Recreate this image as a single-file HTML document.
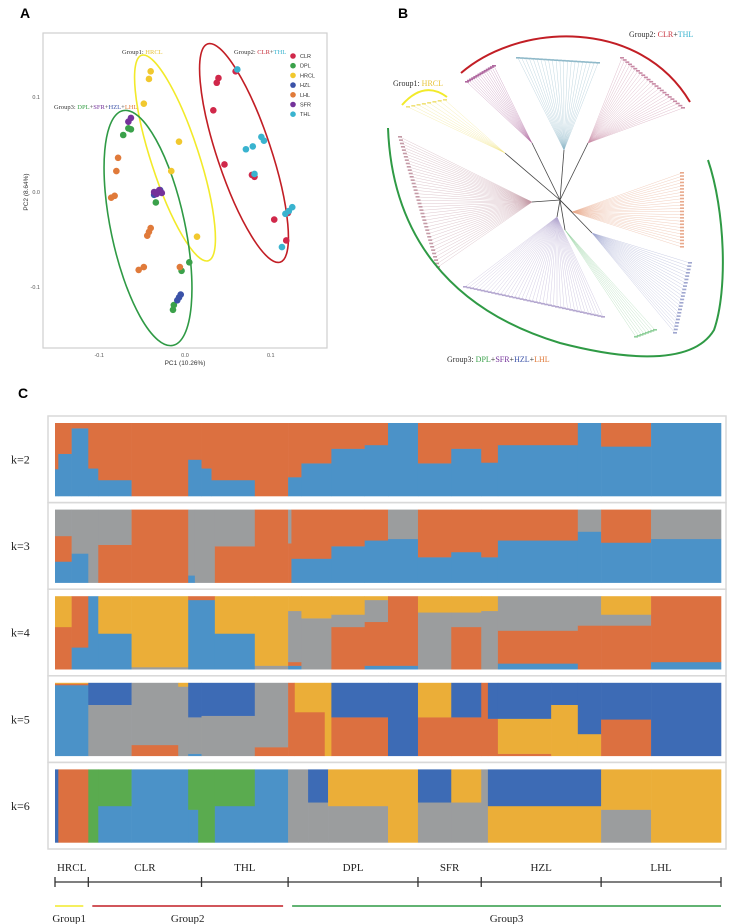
<!DOCTYPE html>
<html><head><meta charset="utf-8"><style>
html,body{margin:0;padding:0;background:#fff;}
svg{display:block;font-family:"Liberation Sans",sans-serif;}
.serif{font-family:"Liberation Serif",serif;}
</style></head><body>
<svg id="fig" width="730" height="924" viewBox="0 0 730 924" xmlns="http://www.w3.org/2000/svg">
<text x="20" y="18" font-size="14" font-weight="bold">A</text>
<text x="398" y="18" font-size="14" font-weight="bold">B</text>
<text x="18" y="398" font-size="14" font-weight="bold">C</text>
<g id="pca"></g>
<g id="tree"></g>
<g id="structure"></g>
</svg>
<script>
// ---------- PCA data ----------
const pcaPops = ["CLR","DPL","HRCL","HZL","LHL","SFR","THL"];
const pcaColors = ["#d0284a","#3aa14a","#f1c82e","#3b52a8","#e07a3a","#74329a","#39b3cf"];
const hrclX = [-0.040,-0.042,-0.048,-0.007,-0.016,0.014];
const hrclY = [0.127,0.119,0.093,0.053,0.022,-0.047];
const clrX = [0.039,0.033,0.046,0.081,0.104,0.118,0.059,0.120,0.037,0.078];
const clrY = [0.120,0.086,0.029,0.016,-0.029,-0.051,0.127,-0.022,0.115,0.018];
const thlX = [0.061,0.092,0.079,0.071,0.121,0.113,0.081,0.089,0.117,0.125];
const thlY = [0.129,0.054,0.048,0.045,-0.020,-0.058,0.019,0.058,-0.023,-0.016];
const sfrX = [-0.066,-0.033,-0.036,-0.027,-0.063,-0.030];
const sfrY = [0.074,-0.002,0.000,-0.001,0.078,0.002];
const dplX = [-0.066,-0.072,-0.034,-0.004,0.005,-0.013,-0.014,-0.063];
const dplY = [0.067,0.060,-0.011,-0.083,-0.074,-0.119,-0.124,0.066];
const lhlX = [-0.078,-0.080,-0.082,-0.086,-0.042,-0.044,-0.054,-0.048,-0.006,-0.040];
const lhlY = [0.036,0.022,-0.004,-0.006,-0.042,-0.046,-0.082,-0.079,-0.079,-0.038];
const hzlX = [-0.007,-0.009,-0.005,-0.032,-0.029,-0.036];
const hzlY = [-0.111,-0.114,-0.108,-0.001,0.002,-0.003];
const pcaXTicks = [-0.1,0.0,0.1];
const pcaYTicks = [0.1,0.0,-0.1];

const NS="http://www.w3.org/2000/svg";
function mk(tag,attrs,parent){const e=document.createElementNS(NS,tag);for(const k in attrs)e.setAttribute(k,attrs[k]);if(parent)parent.appendChild(e);return e;}

(function(){
  const g=document.getElementById('pca');
  const sx=v=>185+v*858, sy=v=>192-v*950;
  const frame=mk('rect',{x:43,y:33,width:284,height:315,fill:'none',stroke:'#cfcfcf','stroke-width':1.2},g);
  
  
  pcaXTicks.forEach(t=>{const tx=mk('text',{x:sx(t),y:357,'font-size':5.5,fill:'#555','text-anchor':'middle'},g);tx.textContent=t.toFixed(1);
    
    });
  pcaYTicks.forEach(t=>{const tx=mk('text',{x:40,y:sy(t)+2,'font-size':5.5,fill:'#555','text-anchor':'end'},g);tx.textContent=t.toFixed(1);
    
    });
  const yl=mk('text',{x:0,y:0,'font-size':6.5,fill:'#333','text-anchor':'middle',transform:'translate(28,192) rotate(-90)'},g);yl.textContent='PC2 (8.64%)';
  
  
  const xl=mk('text',{x:185,y:365,'font-size':6.5,fill:'#333','text-anchor':'middle'},g);xl.textContent='PC1 (10.26%)';
  
  
  // ellipses
  const e1=mk('ellipse',{cx:175,cy:158,rx:24,ry:108,fill:'none',stroke:'#f2ea2a','stroke-width':1.6,transform:'rotate(-18 175 158)'},g);
  
  
  const e2=mk('ellipse',{cx:244,cy:153,rx:27,ry:115,fill:'none',stroke:'#c21e25','stroke-width':1.6,transform:'rotate(-18.4 244 153)'},g);
  
  
  const e3=mk('ellipse',{cx:148,cy:228,rx:37,ry:120,fill:'none',stroke:'#2f9a45','stroke-width':1.6,transform:'rotate(-12 148 228)'},g);
  
  
  const sets=[[clrX,clrY,0],[dplX,dplY,1],[hrclX,hrclY,2],[lhlX,lhlY,4],[thlX,thlY,6],[hzlX,hzlY,3],[sfrX,sfrY,5]];
  sets.forEach(([xs,ys,ci])=>{xs.forEach((x,i)=>{const c=mk('circle',{cx:sx(x),cy:sy(ys[i]),r:3.3,fill:pcaColors[ci]},g);
    
    });});
  // legend
  pcaPops.forEach((p,i)=>{const y=56+i*9.7;
    const c=mk('circle',{cx:293,cy:y,r:2.8,fill:pcaColors[i]},g);
    
    
    const t=mk('text',{x:300,y:y+2,'font-size':5.5,fill:'#333'},g);t.textContent=p;
    
    });
})();
</script>
<script>
// group labels in A and B (text)
(function(){
  const svg=document.getElementById('fig');
  function label(x,y,size,parts,name){
    const t=mk('text',{x:x,y:y,'font-size':size,class:'serif'},svg);
    
    
    parts.forEach(([s,c])=>{const ts=mk('tspan',{fill:c},t);ts.textContent=s;});
  }
  label(122,54,6.5,[['Group1: ','#333'],['HRCL','#e8c43a']],'group1-label');
  label(234,54,6.5,[['Group2: ','#333'],['CLR','#c8333f'],['+','#333'],['THL','#39b3cf']],'group2-label');
  label(54,109,6.5,[['Group3: ','#333'],['DPL','#3aa14a'],['+','#333'],['SFR','#74329a'],['+','#333'],['HZL','#3b52a8'],['+','#333'],['LHL','#e07a3a']],'group3-label');
  label(629,37,8,[['Group2: ','#333'],['CLR','#c8333f'],['+','#333'],['THL','#39b3cf']],'tree-group2-label');
  label(393,86,8,[['Group1: ','#333'],['HRCL','#e8c43a']],'tree-group1-label');
  label(447,362,8,[['Group3: ','#333'],['DPL','#3aa14a'],['+','#333'],['SFR','#74329a'],['+','#333'],['HZL','#3b52a8'],['+','#333'],['LHL','#e07a3a']],'tree-group3-label');
})();
</script>
<script>
// ---------- Tree (approximate clades) ----------
const cladeLeafA = [[467,82],[518,58],[622,58],[408,107],[400,137],[682,173],[690,263],[465,287],[636,337]];
const cladeLeafB = [[494,66],[598,63],[683,108],[445,100],[438,267],[682,247],[675,333],[603,317],[655,330]];
const cladeHub = [[532,143],[564,150],[588,143],[505,153],[532,202],[572,212],[592,233],[557,217],[565,230]];
const cladeCount = [14,22,24,8,40,24,22,40,8];
const cladeColor = ["#b06aa0","#8fb9c9","#c88aa5","#f0e27a","#c49aa6","#e8a98c","#9fa6cf","#b3a6cf","#8fcf9a"];
(function(){
  const g=document.getElementById('tree');
  const cx=560, cy=200;
  cladeHub.forEach((h,i)=>{
    const bb=mk('line',{x1:cx,y1:cy,x2:h[0],y2:h[1],stroke:'#444','stroke-width':0.8},g);
    
    
    const n=cladeCount[i];
    for(let j=0;j<n;j++){
      const f=j/(n-1);
      const lx=cladeLeafA[i][0]+(cladeLeafB[i][0]-cladeLeafA[i][0])*f;
      const ly=cladeLeafA[i][1]+(cladeLeafB[i][1]-cladeLeafA[i][1])*f;
      const l=mk('line',{x1:h[0],y1:h[1],x2:lx,y2:ly,stroke:cladeColor[i],'stroke-width':0.4,opacity:0.7},g);
      
      
      const d=mk('rect',{x:lx-2,y:ly-1,width:4,height:1.6,fill:cladeColor[i]},g);
      
      
    }
  });
  const r=mk('path',{d:'M461,73 C520,22 640,18 690,102',fill:'none',stroke:'#c21e25','stroke-width':2},g);
  
  
  const y=mk('path',{d:'M402,105 Q424,80 447,97',fill:'none',stroke:'#f2ea2a','stroke-width':2},g);
  
  
  const gr=mk('path',{d:'M388,128 C392,235 450,310 560,343 C610,356 690,370 714,330 C728,290 725,210 708,160',fill:'none',stroke:'#2f9a45','stroke-width':2},g);
  
  
})();
</script>
<script>
// ---------- STRUCTURE data ----------
const totalSamples = 200;
const popNames = ["HRCL","CLR","THL","DPL","SFR","HZL","LHL"];
const popBounds = [0,10,44,70,109,128,164,200];
const k2Starts = [0,1,5,10,13,23,40,44,47,60,70,74,83,93,100,109,119,128,133,157,164,179];
const k2Props = [[.37,.63],[.58,.42],[.93,.07],[.38,.62],[.22,.78],[0,1],[.5,.5],[.38,.62],[.22,.78],[0,1],[.26,.74],[.45,.55],[.65,.35],[.70,.30],[1,0],[.45,.55],[.65,.35],[.46,.54],[.7,.3],[1,0],[.68,.32],[1,0]];
const k3Starts = [0,5,10,13,23,40,42,48,60,70,71,83,93,100,109,119,128,133,157,164,179];
const k3Props = [[.29,.35,.36],[.4,0,.6],[0,0,1],[0,.52,.48],[0,1,0],[.1,0,.9],[0,0,1],[0,.5,.5],[0,1,0],[0,.54,.46],[.33,.67,0],[.5,.5,0],[.58,.42,0],[.6,0,.4],[.35,.65,0],[.42,.58,0],[.35,.65,0],[.58,.42,0],[.7,0,.3],[.55,.45,0],[.6,0,.4]];
const k4Starts = [0,5,10,13,23,40,48,60,70,74,83,93,100,109,119,128,133,157,164,179];
const k4Props = [[0,.58,0,.42],[.3,.7,0,0],[1,0,0,0],[.49,0,0,.51],[0,0,.03,.97],[.95,.05,0,0],[.49,0,0,.51],[0,0,.05,.95],[.05,.05,.7,.2],[0,0,.7,.3],[0,.58,.17,.25],[.05,.6,.3,.05],[.05,.95,0,0],[0,0,.78,.22],[0,.58,.2,.22],[0,0,.8,.2],[.08,.45,.47,0],[0,.6,.4,0],[0,.6,.15,.25],[.1,.9,0,0]];
const k5Starts = [0,10,23,37,40,44,60,70,72,81,83,100,109,119,128,130,133,149,157,164,179];
const k5Props = [[.97,.02,0,.01,0],[0,0,.7,0,.3],[0,.15,.85,0,0],[0,0,.95,.05,0],[.03,0,.5,0,.47],[0,0,.55,0,.45],[0,.12,.88,0,0],[0,1,0,0,0],[0,.6,0,.4,0],[0,0,0,1,0],[0,.53,0,0,.47],[0,0,0,0,1],[0,.53,0,.47,0],[0,.53,0,0,.47],[0,1,0,0,0],[0,.51,0,0,.49],[0,.03,0,.48,.49],[0,0,0,.7,.3],[0,0,0,.3,.7],[0,.5,0,0,.5],[0,0,0,0,1]];
const k6Starts = [0,1,10,13,23,40,43,48,60,70,76,82,100,109,119,128,130,164,179];
const k6Props = [[0,0,0,0,1,0],[0,1,0,0,0,0],[0,0,0,0,0,1],[.5,0,0,0,0,.5],[1,0,0,0,0,0],[.45,0,0,0,0,.55],[0,0,0,0,0,1],[.5,0,0,0,0,.5],[1,0,0,0,0,0],[0,0,1,0,0,0],[0,0,.55,0,.45,0],[0,0,.5,.5,0,0],[0,0,0,1,0,0],[0,0,.55,0,.45,0],[0,0,.55,.45,0,0],[0,0,1,0,0,0],[0,0,0,.5,.5,0],[0,0,.45,.55,0,0],[0,0,0,1,0,0]];
const kLabels = ["k=2","k=3","k=4","k=5","k=6"];
const groupNames = ["Group1","Group2","Group3"];
const groupStartPop = [0,1,3];
const groupEndPop = [1,3,7];

(function(){
  const g=document.getElementById('structure');
  const X0=55, X1=721;
  const sx=s=>X0+(X1-X0)*s/totalSamples;
  const palettes=[["#4b92c8","#dc7040"],["#4b92c8","#dc7040","#9b9d9e"],["#4b92c8","#dc7040","#9b9d9e","#ebae38"],["#4b92c8","#dc7040","#9b9d9e","#ebae38","#3d6bb5"],["#4b92c8","#dc7040","#9b9d9e","#ebae38","#3d6bb5","#5aab4f"]];
  const starts=[k2Starts,k3Starts,k4Starts,k5Starts,k6Starts];
  const props=[k2Props,k3Props,k4Props,k5Props,k6Props];
  kLabels.forEach((lab,p)=>{
    const boxTop=416+p*86.6, top=boxTop+7, h=73;
    const box=mk('rect',{x:48,y:boxTop,width:678,height:86.6,fill:'none',stroke:'#d9d9d9','stroke-width':1.5},g);
    
    
    const t=mk('text',{x:11,y:top+h/2+4,'font-size':12,class:'serif',fill:'#222'},g);t.textContent=lab;
    
    
    const st=starts[p], pr=props[p];
    st.forEach((s0,i)=>{
      const s1=i+1<st.length?st[i+1]:totalSamples;
      let acc=0;
      pr[i].forEach((v,c)=>{
        if(v<=0)return;
        const y1=top+h*(1-acc-v), hh=h*v+0.3;
        const r=mk('rect',{x:sx(s0),y:y1,width:sx(s1)-sx(s0)+0.3,height:hh,fill:palettes[p][c]},g);
        
        
        acc+=v;
      });
    });
  });
  // population axis
  const ax=mk('line',{x1:sx(0),y1:882,x2:sx(totalSamples),y2:882,stroke:'#333','stroke-width':1.3},g);
  
  
  popBounds.forEach(b=>{const tk=mk('line',{x1:sx(b),y1:877,x2:sx(b),y2:887,stroke:'#333','stroke-width':1.3},g);
    
    });
  popNames.forEach((n,i)=>{const t=mk('text',{x:(sx(popBounds[i])+sx(popBounds[i+1]))/2,y:871,'font-size':11,class:'serif','text-anchor':'middle',fill:'#222'},g);t.textContent=n;
    
    });
  const gcols=["#f2ea2a","#c21e25","#2f9a45"];
  groupNames.forEach((n,i)=>{
    const a=sx(popBounds[groupStartPop[i]])+(i?4:0), b=sx(popBounds[groupEndPop[i]])-(i<2?5:0);
    const l=mk('line',{x1:a,y1:906,x2:b,y2:906,stroke:gcols[i],'stroke-width':1.5},g);
    
    
    const t=mk('text',{x:(a+b)/2,y:922,'font-size':11,class:'serif','text-anchor':'middle',fill:'#222'},g);t.textContent=n;
    
    
  });
})();
</script>
</body></html>
